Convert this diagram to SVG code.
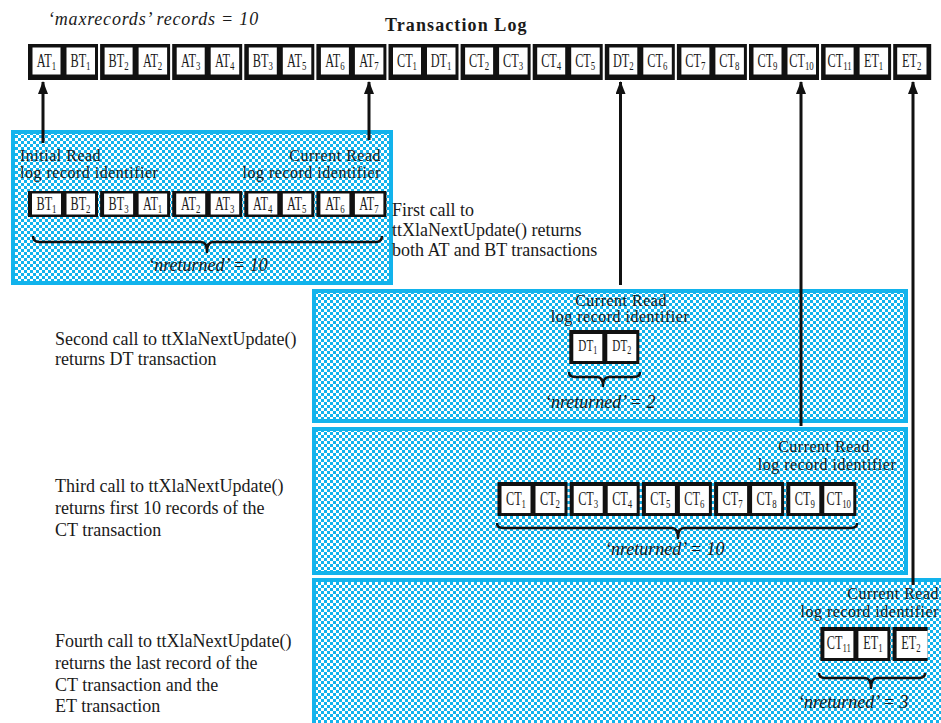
<svg xmlns="http://www.w3.org/2000/svg" xmlns:xlink="http://www.w3.org/1999/xlink" width="941" height="723" viewBox="0 0 941 723">
<style>
.t{font-family:"Liberation Serif","Times New Roman",serif;font-size:18px;fill:#1a1a1a}
.l{font-size:16px;letter-spacing:0.5px}
.i{font-style:italic}
.b{font-weight:bold}
.m{text-anchor:middle}
.e{text-anchor:end}
.c{font-family:"Liberation Serif","Times New Roman",serif;font-size:18px;fill:#1a1a1a;text-anchor:middle}
.s{font-size:13px}
.panel{fill:url(#chk);stroke:#12b3ec;stroke-width:4}
.brace{fill:none;stroke:#111;stroke-width:2.5;stroke-linejoin:round}
.conn line{stroke:#111;stroke-width:3;marker-end:url(#ah)}
</style>
<defs>
<pattern id="chk" width="6" height="6" patternUnits="userSpaceOnUse"><rect width="6" height="6" fill="#fff"/><rect width="3" height="3" fill="#12b3ec"/><rect x="3" y="3" width="3" height="3" fill="#12b3ec"/></pattern>
<marker id="ah" viewBox="0 0 13 10" refX="12" refY="5" markerWidth="13" markerHeight="10" markerUnits="userSpaceOnUse" orient="auto"><path d="M0,0 L13,5 L0,10 Z" fill="#111"/></marker>
<g id="p36"><rect width="70" height="36" fill="#111"/><rect x="4.5" y="3.5" width="28" height="27" fill="#fff"/><rect x="38.5" y="3.5" width="28.5" height="27" fill="#fff"/></g>
<g id="p26"><rect width="70" height="26" fill="#111"/><rect x="4" y="2.5" width="29" height="21" fill="#fff"/><rect x="38.5" y="2.5" width="28.5" height="21" fill="#fff"/></g>
<g id="p34"><rect width="70" height="34" fill="#111"/><rect x="4" y="4" width="29" height="27" fill="#fff"/><rect x="38" y="4" width="29" height="27" fill="#fff"/></g>
</defs>
<rect width="941" height="723" fill="#fff"/>

<text class="t i" x="48" y="25" letter-spacing="0.8">‘maxrecords’ records = 10</text>
<text class="t b" x="385" y="31" letter-spacing="1.1">Transaction Log</text>

<g id="panel1">
<rect class="panel" x="13" y="132" width="378" height="151"/>
<text class="t l" x="20" y="161">Initial Read</text>
<text class="t l" x="20" y="178">log record identifier</text>
<text class="t l e" x="381" y="161">Current Read</text>
<text class="t l e" x="381" y="178">log record identifier</text>
<path class="brace" d="M33,236 Q33,242 39,242 L201,242 Q207,242 207,252 Q207,242 213,242 L376,242 Q382,242 382,236"/>
<text class="t i m" x="208" y="271">‘nreturned’ = 10</text>
</g>
<g id="panel2">
<rect class="panel" x="314" y="291" width="592" height="130"/>
<text class="t l m" x="621" y="306">Current Read</text>
<text class="t l m" x="620" y="322">log record identifier</text>
<path class="brace" d="M569,372 Q569,377 575,377 L597,377 Q603,377 603,386 Q603,377 609,377 L634,377 Q640,377 640,372"/>
<text class="t i" x="545" y="408">‘nreturned’ = 2</text>
</g>
<g id="panel3">
<rect class="panel" x="314" y="429" width="592" height="144"/>
<text class="t l m" x="824" y="452">Current Read</text>
<text class="t l m" x="827" y="470">log record identifier</text>
<path class="brace" d="M497,523 Q497,528 503,528 L672,528 Q678,528 678,538 Q678,528 684,528 L851,528 Q857,528 857,523"/>
<text class="t i" x="605" y="555">‘nreturned’ = 10</text>
</g>
<g id="panel4">
<rect class="panel" x="314" y="580" width="632" height="150"/>
<text class="t l e" x="939" y="599">Current Read</text>
<text class="t l e" x="939" y="617">log record identifier</text>
<path class="brace" d="M819,673 Q819,678 825,678 L865,678 Q871,678 871,688 Q871,678 877,678 L919,678 Q925,678 925,673"/>
<text class="t i" x="798" y="708">‘nreturned’ = 3</text>
</g>

<g id="captions">
<text class="t" x="392" y="216">First call to</text>
<text class="t" x="392" y="236">ttXlaNextUpdate() returns</text>
<text class="t" x="392" y="256">both AT and BT transactions</text>
<text class="t" x="55" y="345">Second call to ttXlaNextUpdate()</text>
<text class="t" x="55" y="365">returns DT transaction</text>
<text class="t" x="55" y="492">Third call to ttXlaNextUpdate()</text>
<text class="t" x="55" y="514">returns first 10 records of the</text>
<text class="t" x="55" y="536">CT transaction</text>
<text class="t" x="55" y="647">Fourth call to ttXlaNextUpdate()</text>
<text class="t" x="55" y="669">returns the last record of the</text>
<text class="t" x="55" y="691">CT transaction and the</text>
<text class="t" x="55" y="712">ET transaction</text>
</g>

<g id="log">
<use href="#p36" x="28" y="44"/>
<use href="#p36" x="100.1" y="44"/>
<use href="#p36" x="172.2" y="44"/>
<use href="#p36" x="244.3" y="44"/>
<use href="#p36" x="316.4" y="44"/>
<use href="#p36" x="388.5" y="44"/>
<use href="#p36" x="460.6" y="44"/>
<use href="#p36" x="532.7" y="44"/>
<use href="#p36" x="604.8" y="44"/>
<use href="#p36" x="676.9" y="44"/>
<use href="#p36" x="749" y="44"/>
<use href="#p36" x="821.1" y="44"/>
<rect x="893.2" y="44" width="38" height="36" fill="#111"/><rect x="897.2" y="47.5" width="29.3" height="27" fill="#fff"/>
<text class="c" transform="translate(46.5,67) scale(0.68,1)">AT<tspan class="s" dy="3">1</tspan></text>
<text class="c" transform="translate(80.5,67) scale(0.68,1)">BT<tspan class="s" dy="3">1</tspan></text>
<text class="c" transform="translate(118.6,67) scale(0.68,1)">BT<tspan class="s" dy="3">2</tspan></text>
<text class="c" transform="translate(152.6,67) scale(0.68,1)">AT<tspan class="s" dy="3">2</tspan></text>
<text class="c" transform="translate(190.7,67) scale(0.68,1)">AT<tspan class="s" dy="3">3</tspan></text>
<text class="c" transform="translate(224.7,67) scale(0.68,1)">AT<tspan class="s" dy="3">4</tspan></text>
<text class="c" transform="translate(262.8,67) scale(0.68,1)">BT<tspan class="s" dy="3">3</tspan></text>
<text class="c" transform="translate(296.8,67) scale(0.68,1)">AT<tspan class="s" dy="3">5</tspan></text>
<text class="c" transform="translate(334.9,67) scale(0.68,1)">AT<tspan class="s" dy="3">6</tspan></text>
<text class="c" transform="translate(368.9,67) scale(0.68,1)">AT<tspan class="s" dy="3">7</tspan></text>
<text class="c" transform="translate(407,67) scale(0.68,1)">CT<tspan class="s" dy="3">1</tspan></text>
<text class="c" transform="translate(441,67) scale(0.68,1)">DT<tspan class="s" dy="3">1</tspan></text>
<text class="c" transform="translate(479.1,67) scale(0.68,1)">CT<tspan class="s" dy="3">2</tspan></text>
<text class="c" transform="translate(513.1,67) scale(0.68,1)">CT<tspan class="s" dy="3">3</tspan></text>
<text class="c" transform="translate(551.2,67) scale(0.68,1)">CT<tspan class="s" dy="3">4</tspan></text>
<text class="c" transform="translate(585.2,67) scale(0.68,1)">CT<tspan class="s" dy="3">5</tspan></text>
<text class="c" transform="translate(623.3,67) scale(0.68,1)">DT<tspan class="s" dy="3">2</tspan></text>
<text class="c" transform="translate(657.3,67) scale(0.68,1)">CT<tspan class="s" dy="3">6</tspan></text>
<text class="c" transform="translate(695.4,67) scale(0.68,1)">CT<tspan class="s" dy="3">7</tspan></text>
<text class="c" transform="translate(729.4,67) scale(0.68,1)">CT<tspan class="s" dy="3">8</tspan></text>
<text class="c" transform="translate(767.5,67) scale(0.68,1)">CT<tspan class="s" dy="3">9</tspan></text>
<text class="c" transform="translate(801.5,67) scale(0.68,1)">CT<tspan class="s" dy="3">10</tspan></text>
<text class="c" transform="translate(839.6,67) scale(0.68,1)">CT<tspan class="s" dy="3">11</tspan></text>
<text class="c" transform="translate(873.6,67) scale(0.68,1)">ET<tspan class="s" dy="3">1</tspan></text>
<text class="c" transform="translate(911.7,67) scale(0.68,1)">ET<tspan class="s" dy="3">2</tspan></text>
</g>

<g id="call1-records">
<use href="#p26" x="28" y="191"/>
<use href="#p26" x="100.1" y="191"/>
<use href="#p26" x="172.2" y="191"/>
<use href="#p26" x="244.3" y="191"/>
<use href="#p26" x="316.4" y="191"/>
<text class="c" transform="translate(46.5,210) scale(0.68,1)">BT<tspan class="s" dy="3">1</tspan></text>
<text class="c" transform="translate(80.5,210) scale(0.68,1)">BT<tspan class="s" dy="3">2</tspan></text>
<text class="c" transform="translate(118.6,210) scale(0.68,1)">BT<tspan class="s" dy="3">3</tspan></text>
<text class="c" transform="translate(152.6,210) scale(0.68,1)">AT<tspan class="s" dy="3">1</tspan></text>
<text class="c" transform="translate(190.7,210) scale(0.68,1)">AT<tspan class="s" dy="3">2</tspan></text>
<text class="c" transform="translate(224.7,210) scale(0.68,1)">AT<tspan class="s" dy="3">3</tspan></text>
<text class="c" transform="translate(262.8,210) scale(0.68,1)">AT<tspan class="s" dy="3">4</tspan></text>
<text class="c" transform="translate(296.8,210) scale(0.68,1)">AT<tspan class="s" dy="3">5</tspan></text>
<text class="c" transform="translate(334.9,210) scale(0.68,1)">AT<tspan class="s" dy="3">6</tspan></text>
<text class="c" transform="translate(368.9,210) scale(0.68,1)">AT<tspan class="s" dy="3">7</tspan></text>
</g>

<g id="call2-records">
<use href="#p34" x="569.3" y="330"/>
<text class="c" transform="translate(587.8,351) scale(0.62,0.9)">DT<tspan class="s" dy="3">1</tspan></text>
<text class="c" transform="translate(621.8,351) scale(0.62,0.9)">DT<tspan class="s" dy="3">2</tspan></text>
</g>

<g id="call3-records">
<use href="#p34" x="497.5" y="482"/>
<use href="#p34" x="569.7" y="482"/>
<use href="#p34" x="641.9" y="482"/>
<use href="#p34" x="714.1" y="482"/>
<use href="#p34" x="786.3" y="482"/>
<text class="c" transform="translate(516,505) scale(0.68,1)">CT<tspan class="s" dy="3">1</tspan></text>
<text class="c" transform="translate(550,505) scale(0.68,1)">CT<tspan class="s" dy="3">2</tspan></text>
<text class="c" transform="translate(588.2,505) scale(0.68,1)">CT<tspan class="s" dy="3">3</tspan></text>
<text class="c" transform="translate(622.2,505) scale(0.68,1)">CT<tspan class="s" dy="3">4</tspan></text>
<text class="c" transform="translate(660.4,505) scale(0.68,1)">CT<tspan class="s" dy="3">5</tspan></text>
<text class="c" transform="translate(694.4,505) scale(0.68,1)">CT<tspan class="s" dy="3">6</tspan></text>
<text class="c" transform="translate(732.6,505) scale(0.68,1)">CT<tspan class="s" dy="3">7</tspan></text>
<text class="c" transform="translate(766.6,505) scale(0.68,1)">CT<tspan class="s" dy="3">8</tspan></text>
<text class="c" transform="translate(804.8,505) scale(0.68,1)">CT<tspan class="s" dy="3">9</tspan></text>
<text class="c" transform="translate(838.8,505) scale(0.68,1)">CT<tspan class="s" dy="3">10</tspan></text>
</g>

<g id="call4-records">
<use href="#p34" x="820.4" y="627"/>
<rect x="892.6" y="627" width="35" height="34" fill="#111"/><rect x="896.6" y="631" width="31" height="27" fill="#fff"/>
<text class="c" transform="translate(838.9,649) scale(0.68,1)">CT<tspan class="s" dy="3">11</tspan></text>
<text class="c" transform="translate(872.9,649) scale(0.68,1)">ET<tspan class="s" dy="3">1</tspan></text>
<text class="c" transform="translate(911,649) scale(0.68,1)">ET<tspan class="s" dy="3">2</tspan></text>
</g>

<g id="connectors" class="conn">
<line x1="43" y1="143" x2="43" y2="82"/>
<line x1="369" y1="140" x2="369" y2="82"/>
<line x1="620.5" y1="285" x2="620.5" y2="82"/>
<line x1="801" y1="426" x2="801" y2="82"/>
<line x1="913" y1="585" x2="913" y2="82"/>
</g>
</svg>
